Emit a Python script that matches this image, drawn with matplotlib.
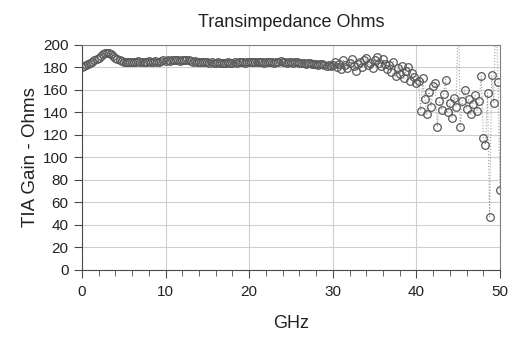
import numpy as np
import matplotlib
matplotlib.use("Agg")
import matplotlib.pyplot as plt

plt.rcParams['font.family'] = ['Liberation Sans', 'DejaVu Sans']

# TIA gain (Ohms), one value every 0.25 GHz from 0 to 50 GHz
gain_0_10 = [180, 181, 182, 183, 184, 185, 186, 187, 188.5, 190, 191.5, 192.5, 193, 192.5, 191.5,
             190, 188.5, 187, 186, 185.5, 185,
             185, 184.5, 185, 185, 184.5, 185, 185.5, 185, 184.5, 185, 185, 185.5, 185, 185, 185.5,
             185, 185, 185.5, 186, 185.5]
gain_10_20 = [186, 185.5, 186, 186, 186.5, 186, 185.5, 186, 186, 186.5, 186, 185.5, 185, 185.5, 185,
              185, 184.5, 185, 184.5, 184.5,
              184, 184.5, 184, 184, 184.5, 184, 183.5, 184, 184, 184.5, 184, 184, 184.5, 184, 184.5,
              185, 184.5, 184, 184.5, 185]
gain_20_30 = [184.5, 185, 185, 184.5, 185, 184.5, 184, 184.5, 185, 185, 184.5, 184, 184.5, 185, 185.5,
              185, 184.5, 184, 185, 184.5,
              184, 184.5, 185, 184, 183.5, 184, 183, 183.5, 184, 183, 182.5, 183, 182, 182.5, 183,
              182, 181.5, 182, 181, 182]
gain_30_40 = [185, 180, 183, 178, 186, 182, 179, 184, 187, 181, 177, 183, 185, 180, 186, 188, 182, 184,
              179, 186,
              189, 184, 181, 187, 183, 178, 182, 176, 185, 172, 179, 174, 181, 170, 177, 180, 168, 175,
              171, 166]
gain_40_50 = [168, 141, 170, 152, 138, 158, 145, 163, 166, 127, 150, 142, 156, 169, 140, 148, 135, 153,
              145, 230, 127, 150, 160, 143, 152, 138, 147, 155, 141, 150, 172, 117, 111, 157, 47, 173,
              148, 240, 167, 71]

gain = np.array(gain_0_10 + gain_10_20 + gain_20_30 + gain_30_40 + gain_40_50)
freq = np.arange(len(gain)) * 0.25

fig = plt.figure(figsize=(5.15, 3.39), dpi=100)
ax = fig.add_axes([0.159, 0.205, 0.812, 0.663])

ax.plot(freq, gain, linestyle=':', color='#a0a0a0', linewidth=0.8,
        marker='o', markersize=5.5, markerfacecolor='none',
        markeredgecolor='#5a5a5a', markeredgewidth=0.9)

ax.set_xlim(0, 50)
ax.set_ylim(0, 200)
ax.set_xticks(range(0, 51, 10))
ax.set_xticks(range(0, 51, 2), minor=True)
ax.set_yticks(range(0, 201, 20))
ax.grid(True, color='#cfcfcf', linewidth=0.8)
ax.set_axisbelow(True)

for s in ['left', 'bottom']:
    ax.spines[s].set_color('#4a4a4a')
for s in ['top', 'right']:
    ax.spines[s].set_color('#808080')
ax.tick_params(axis='both', which='major', length=6, color='#4a4a4a', labelsize=11,
               labelcolor='#222222')
ax.tick_params(axis='x', which='major', pad=5)
ax.tick_params(axis='x', which='minor', length=4, color='#4a4a4a')

ax.set_title("Transimpedance Ohms", fontsize=13, pad=13, color='#222222')
ax.set_xlabel("GHz", fontsize=13, labelpad=12, color='#222222')
ax.set_ylabel("TIA Gain - Ohms", fontsize=13.5, labelpad=3, color='#222222')

fig.savefig("out.png", dpi=100)
